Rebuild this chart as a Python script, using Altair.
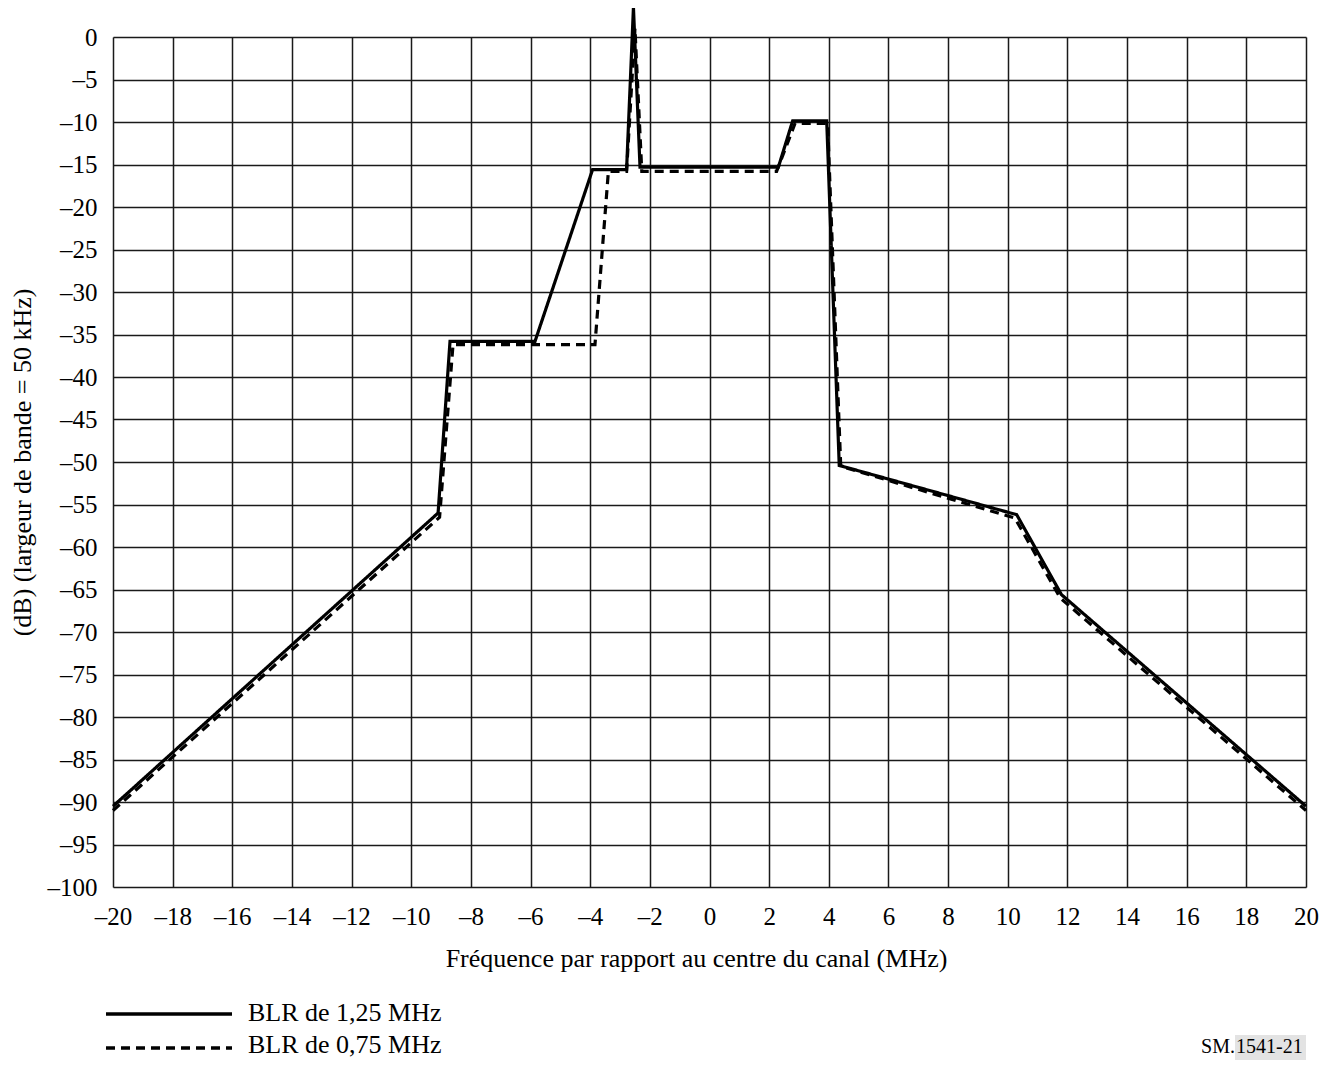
import altair as alt
import pandas as pd

FONT = "Liberation Serif"

label_solid = "BLR de 1,25 MHz"
label_dash = "BLR de 0,75 MHz"

solid_f = [-20, -9.1, -8.7, -5.85, -3.92, -2.78, -2.55, -2.33, 2.31, 2.79, 3.93, 4.35, 10.3, 11.8, 20]
solid_db = [-90.5, -56.0, -35.8, -35.8, -15.6, -15.6, 3.5, -15.3, -15.3, -9.85, -9.85, -50.4, -56.2, -65.6, -90.5]

dash_f = [-20, -9.05, -8.6, -3.84, -3.39, -2.78, -2.5, -2.27, 2.25, 2.87, 3.96, 4.4, 10.24, 11.76, 20]
dash_db = [-91.0, -56.5, -36.2, -36.2, -15.8, -15.8, 1.0, -15.8, -15.8, -10.15, -10.15, -50.5, -56.6, -66.0, -91.0]

x_ticks = list(range(-20, 21, 2))
y_ticks = list(range(-100, 1, 5))

rows = []
for i, (f, d) in enumerate(zip(solid_f, solid_db)):
    rows.append({"serie": label_solid, "f": f, "db": d, "i": i})
for i, (f, d) in enumerate(zip(dash_f, dash_db)):
    rows.append({"serie": label_dash, "f": f, "db": d, "i": i})
df = pd.DataFrame(rows)

W, H = 1193, 850
DASH = [9, 6]
label_expr = "datum.value < 0 ? '\u2013' + abs(datum.value) : '' + datum.value"

lines = alt.Chart(df).mark_line(clip=False, strokeWidth=3.2, color="black", strokeJoin="miter").encode(
    x=alt.X("f:Q", scale=alt.Scale(domain=[-20, 20], nice=False, zero=False),
            axis=alt.Axis(values=x_ticks, title="Fréquence par rapport au centre du canal (MHz)",
                          grid=True, gridColor="#1a1a1a", gridWidth=1.5, domain=False,
                          ticks=False, tickSize=0, labelPadding=17, labelFontSize=25, labelFont=FONT,
                          labelColor="black", labelExpr=label_expr,
                          titleFont=FONT, titleFontSize=26, titleFontWeight="normal",
                          titleColor="black", titleX=583, titleY=71, titleBaseline="middle",
                          labelOverlap=False, labelFlush=False)),
    y=alt.Y("db:Q", scale=alt.Scale(domain=[-100, 0], nice=False, zero=False),
            axis=alt.Axis(values=y_ticks, title="(dB) (largeur de bande = 50 kHz)",
                          grid=True, gridColor="#1a1a1a", gridWidth=1.5, domain=False,
                          ticks=False, tickSize=0, labelPadding=16, labelFontSize=25, labelFont=FONT,
                          labelColor="black", labelExpr=label_expr,
                          titleFont=FONT, titleFontSize=26, titleFontWeight="normal",
                          titleColor="black", titleX=-91, titleY=H / 2, titleAngle=-90,
                          titleAlign="center", titleBaseline="middle",
                          labelOverlap=False, labelFlush=False)),
    strokeDash=alt.StrokeDash("serie:N",
                              scale=alt.Scale(domain=[label_solid, label_dash], range=[[1, 0], DASH]),
                              legend=None),
    detail="serie:N",
    order="i:Q",
)

one = pd.DataFrame({"a": [0]})

# legend drawn as annotation
leg_solid = alt.Chart(one).mark_rule(color="black", strokeWidth=3.5, clip=False).encode(
    x=alt.value(-7), x2=alt.value(119), y=alt.value(977))
leg_dash = alt.Chart(one).mark_rule(color="black", strokeWidth=3.5, strokeDash=DASH, clip=False).encode(
    x=alt.value(-7), x2=alt.value(119), y=alt.value(1011))
leg_t1 = alt.Chart(one).mark_text(
    text=label_solid, font=FONT, fontSize=26, align="left", baseline="middle", color="black", clip=False
).encode(x=alt.value(135), y=alt.value(976))
leg_t2 = alt.Chart(one).mark_text(
    text=label_dash, font=FONT, fontSize=26, align="left", baseline="middle", color="black", clip=False
).encode(x=alt.value(135), y=alt.value(1008))

sm_bg = alt.Chart(one).mark_rect(color="#e3e3e3", clip=False).encode(
    x=alt.value(1122), x2=alt.value(1193), y=alt.value(998), y2=alt.value(1023)
)
sm_a = alt.Chart(one).mark_text(
    text="SM.", font=FONT, fontSize=20, align="right", baseline="middle", color="black", clip=False
).encode(x=alt.value(1122), y=alt.value(1010))
sm_b = alt.Chart(one).mark_text(
    text="1541-21", font=FONT, fontSize=20, align="left", baseline="middle", color="black", clip=False
).encode(x=alt.value(1123), y=alt.value(1010))

chart = alt.layer(lines, leg_solid, leg_dash, leg_t1, leg_t2, sm_bg, sm_a, sm_b).properties(
    width=W, height=H,
    autosize=alt.AutoSizeParams(type="none"),
    padding={"left": 105, "top": 29, "right": 19, "bottom": 173},
).configure_view(stroke="black", strokeWidth=2.5).configure(background="white")

chart.save("out.html", embed_options={"renderer": "svg", "actions": False})
